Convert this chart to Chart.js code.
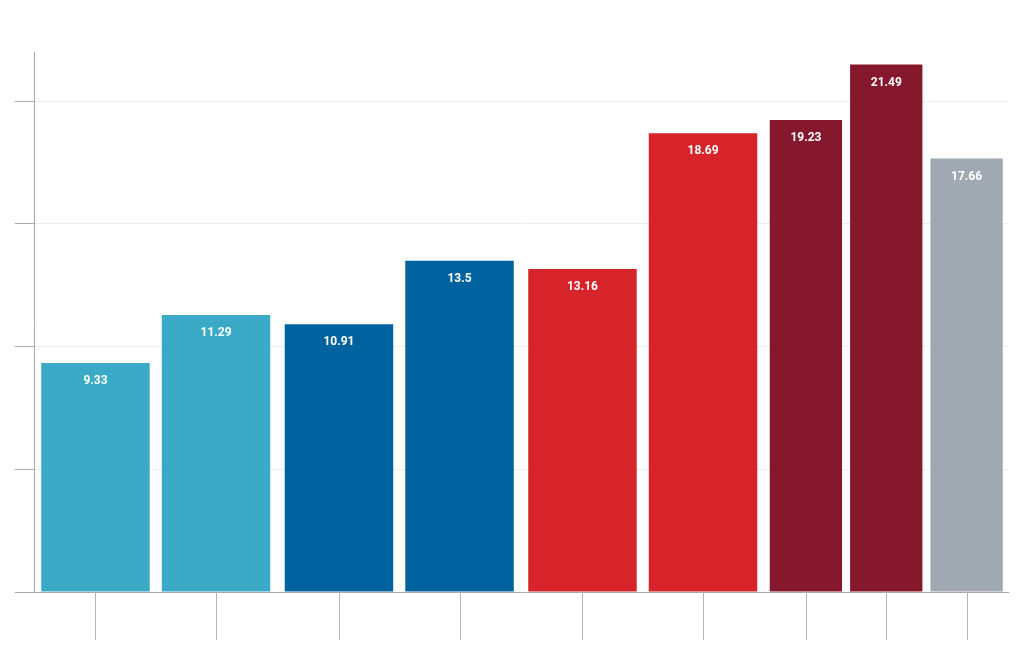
<!DOCTYPE html>
<html>
<head>
<meta charset="utf-8">
<script src="https://cdn.jsdelivr.net/npm/chart.js@4"></script>
<style>
  html, body { margin: 0; padding: 0; background: #fff; }
  #wrap { width: 1020px; height: 650px; }
</style>
</head>
<body>
<div id="wrap"><canvas id="mycanvas"></canvas></div>
<script>
// categories (labels are not shown in the picture)
var categories = ['Group 1', 'Group 2', 'Group 3', 'Group 4'];
var firstBar = [9.33, 10.91, 13.16, 19.23];
var secondBar = [11.29, 13.5, 18.69, 21.49];
var thirdBar = [null, null, null, 17.66];
var yTicks = [0, 5, 10, 15, 20];

var groupColors = ['#3BAAC6', '#00629F', '#D7232A', '#86182E'];
var greyColor = '#A0A8B2';

// white value labels inside the top of each bar
var valueLabels = {
  id: 'valueLabels',
  afterDatasetsDraw: function(chart) {
    var ctx = chart.ctx;
    ctx.save();
    ctx.fillStyle = '#fff';
    ctx.font = 'bold 12px Roboto';
    ctx.textAlign = 'center';
    ctx.textBaseline = 'middle';
    chart.data.datasets.forEach(function(ds, i) {
      chart.getDatasetMeta(i).data.forEach(function(bar, j) {
        var v = ds.data[j];
        if (v === null || v === undefined) return;
        ctx.fillText(String(v), bar.x, bar.y + 18);
      });
    });
    ctx.restore();
  }
};

// x tick marks under every bar center
var barTicks = {
  id: 'barTicks',
  afterDraw: function(chart) {
    var ctx = chart.ctx;
    var bottom = chart.chartArea.bottom;
    ctx.save();
    ctx.strokeStyle = '#b4b4bc';
    ctx.lineWidth = 1;
    chart.data.datasets.forEach(function(ds, i) {
      chart.getDatasetMeta(i).data.forEach(function(bar, j) {
        if (ds.data[j] === null) return;
        var x = Math.round(bar.x) + 0.5;
        ctx.beginPath();
        ctx.moveTo(x, bottom);
        ctx.lineTo(x, bottom + 48);
        ctx.stroke();
      });
    });
    ctx.restore();
  }
};

var ctx = document.getElementById('mycanvas');
var chart = new Chart(ctx, {
  type: 'bar',
  data: {
    labels: categories,
    datasets: [
      { data: firstBar, backgroundColor: groupColors },
      { data: secondBar, backgroundColor: groupColors },
      { data: thirdBar, backgroundColor: greyColor }
    ]
  },
  options: {
    responsive: true,
    maintainAspectRatio: false,
    animation: false,
    skipNull: true,
    categoryPercentage: 0.99,
    barPercentage: 0.9,
    layout: { padding: { left: 15, right: 12, top: 52, bottom: 10 } },
    plugins: { legend: { display: false }, tooltip: { enabled: false } },
    scales: {
      x: {
        grid: { display: true, drawOnChartArea: false, color: 'rgba(0,0,0,0)', tickLength: 48 },
        border: { color: '#a8a8b0' },
        ticks: { display: false }
      },
      y: {
        min: 0,
        max: 22,
        afterBuildTicks: function(axis) {
          axis.ticks = yTicks.map(function(v) { return { value: v }; });
        },
        grid: { color: '#ececec', tickColor: '#a8a8b0', tickLength: 19 },
        border: { color: '#a8a8b0' },
        ticks: { display: false }
      }
    }
  },
  plugins: [valueLabels, barTicks]
});
</script>
</body>
</html>
